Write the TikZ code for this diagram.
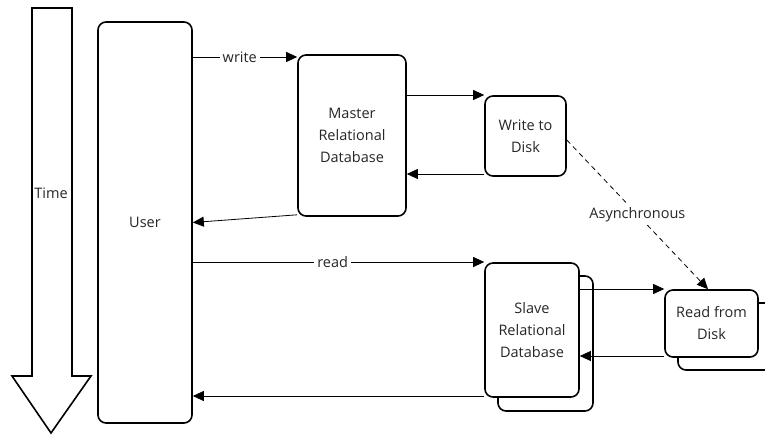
\documentclass[tikz,border=0pt]{standalone}
\usepackage{fontspec}
\setmainfont{Open Sans}
\usetikzlibrary{arrows.meta,calc}
\begin{document}
\begin{tikzpicture}[x=1pt,y=-1pt,
  box/.style={draw,line width=1.6pt,rounded corners=8pt,fill=white,align=center,inner sep=0pt,text=black!85},
  arr/.style={-{Triangle[length=11pt,width=10pt]},line width=0.8pt},
  lbl/.style={fill=white,inner sep=3pt,text=black!85},
  font=\fontsize{14.5}{22}\selectfont]
\clip (0,0) rectangle (765,435);
% time arrow
\draw[line width=1.6pt,line join=miter,fill=white] (32,8) -- (72,8) -- (72,376) -- (91,376) -- (51,433) -- (12,376) -- (32,376) -- cycle;
\node[text=black!85] (time) at (51,193) {Time};
% boxes
\node[box,minimum width=94pt,minimum height=401pt] (user) at (145,222.5) {User};
\node[box,minimum width=108pt,minimum height=161pt] (master) at (352,135.5) {Master\\Relational\\Database};
\node[box,minimum width=81pt,minimum height=80pt] (wdisk) at (525.5,136) {Write to\\Disk};
\node[box,minimum width=95pt,minimum height=135pt] (slaveback) at (545.5,343.5) {};
\node[box,minimum width=94pt,minimum height=134pt] (slave) at (532,330) {Slave\\Relational\\Database};
\node[box,minimum width=110pt,minimum height=67pt] (rdiskback) at (733,336.5) {};
\node[box,minimum width=93pt,minimum height=67pt] (rdisk) at (711.5,323.5) {Read from\\Disk};
% connectors
\draw[arr] (user.east |- 0,57) -- node[lbl,pos=0.45]{write} (master.west |- 0,57);
\draw[arr] (master.east |- 0,95) -- (wdisk.west |- 0,95);
\draw[arr] (wdisk.west |- 0,174) -- (master.east |- 0,174);
\draw[arr] ($(master.south west)+(0,-2)$) -- (user.east);
\draw[arr] (user.east |- 0,262) -- node[lbl,pos=0.48]{read} (slave.west |- 0,262);
\draw[arr] (slave.east |- 0,289) -- (rdisk.west |- 0,289);
\draw[arr] (rdisk.west |- 0,356) -- (slave.east |- 0,356);
\draw[arr] (slave.west |- 0,396) -- (user.east |- 0,396);
\draw[arr,dash pattern=on 5pt off 4pt] (wdisk.east |- 0,140) -- node[lbl]{Asynchronous} (rdisk.north -| 708,0);
\end{tikzpicture}
\end{document}
